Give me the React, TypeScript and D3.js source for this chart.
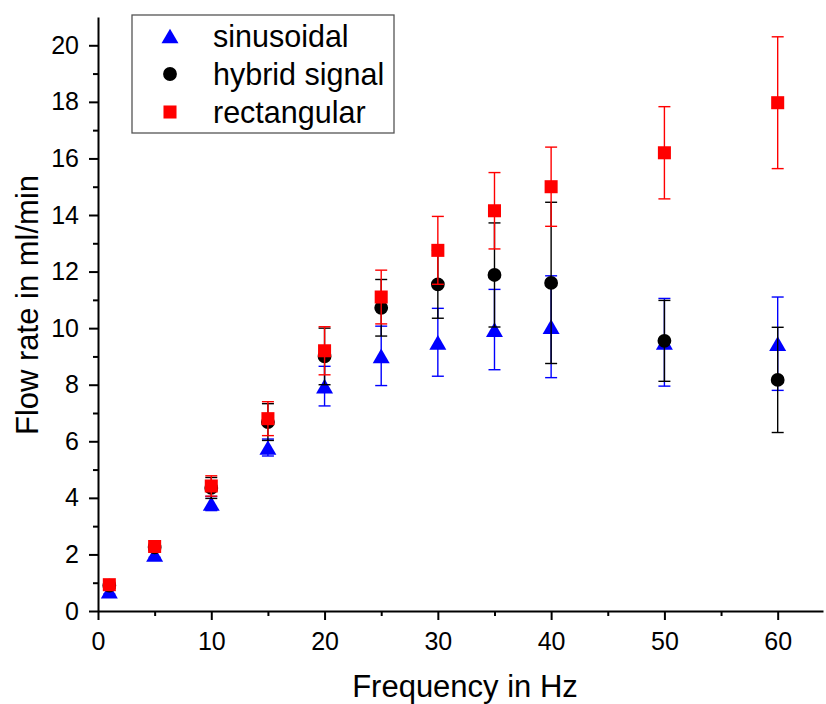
import React, { useEffect, useRef } from "react"
import * as d3 from "d3"

// frequencies (Hz) and flow rates (ml/min)
const frequencies = [1, 5, 10, 15, 20, 25, 30, 35, 40, 50, 60]
const sinusoidal = [0.7, 2.0, 3.8, 5.78, 7.95, 9.02, 9.5, 9.95, 10.05, 9.5, 9.45]
const sinusoidalErr = [0.1, 0.1, 0.25, 0.3, 0.7, 1.05, 1.2, 1.42, 1.8, 1.55, 1.65]
const hybrid = [0.9, 2.25, 4.35, 6.68, 9.0, 10.72, 11.55, 11.88, 11.6, 9.55, 8.17]
const hybridErr = [0.1, 0.1, 0.37, 0.65, 1.0, 1.0, 1.2, 1.84, 2.85, 1.43, 1.86]
const rectangular = [0.93, 2.28, 4.42, 6.8, 9.2, 11.1, 12.75, 14.15, 15.0, 16.2, 17.97]
const rectangularErr = [0.1, 0.1, 0.36, 0.6, 0.85, 0.95, 1.2, 1.35, 1.4, 1.63, 2.33]

const seriesNames = ["sinusoidal", "hybrid signal", "rectangular"]
const xMajorTicks = [0, 10, 20, 30, 40, 50, 60]
const xMinorTicks = [5, 15, 25, 35, 45, 55]
const yMajorTicks = [0, 2, 4, 6, 8, 10, 12, 14, 16, 18, 20]
const yMinorTicks = [1, 3, 5, 7, 9, 11, 13, 15, 17, 19]

const FONT = "'Liberation Sans', Arial, sans-serif"

export default function App() {
    const ref = useRef<SVGSVGElement>(null)

    useEffect(() => {
        const svg = d3.select(ref.current)
        svg.selectAll("*").remove()

        const margin = { top: 17, left: 98, bottom: 93, right: 3 }
        const width = 826
        const height = 704

        const x = d3.scaleLinear().domain([0, 64]).range([margin.left, width - margin.right])
        const y = d3.scaleLinear().domain([0, 21]).range([height - margin.bottom, margin.top])

        const series = [
            { name: seriesNames[0], values: sinusoidal, err: sinusoidalErr, color: "#0000ff", shape: "triangle" },
            { name: seriesNames[1], values: hybrid, err: hybridErr, color: "#000000", shape: "circle" },
            { name: seriesNames[2], values: rectangular, err: rectangularErr, color: "#ff0000", shape: "square" },
        ]

        const marker = (shape: string) => {
            if (shape === "triangle") return d3.symbol().type(d3.symbolTriangle).size(125)()
            if (shape === "circle") return d3.symbol().type(d3.symbolCircle).size(150)()
            return d3.symbol().type(d3.symbolSquare).size(170)()
        }
        const markerShift = (shape: string) => (shape === "triangle" ? 2.45 : 0)

        // axes
        const xAxis = svg.append("g").attr("transform", `translate(0,${y(0)})`)
        xAxis.call(d3.axisBottom(x).tickValues(xMajorTicks).tickSize(9).tickSizeOuter(0).tickPadding(12))
        xAxis.append("g").call(d3.axisBottom(x).tickValues(xMinorTicks).tickSize(5).tickFormat(() => ""))
            .select(".domain").remove()

        const yAxis = svg.append("g").attr("transform", `translate(${x(0)},0)`)
        yAxis.call(d3.axisLeft(y).tickValues(yMajorTicks).tickSize(9).tickSizeOuter(0).tickPadding(10))
        yAxis.append("g").call(d3.axisLeft(y).tickValues(yMinorTicks).tickSize(5).tickFormat(() => ""))
            .select(".domain").remove()

        svg.selectAll(".domain").attr("stroke", "#000").attr("stroke-width", 2)
        svg.selectAll(".tick line").attr("stroke", "#000").attr("stroke-width", 2)
        svg.selectAll(".tick text").attr("font-family", FONT).attr("font-size", 25).attr("fill", "#000")

        // series: error bars then markers
        series.forEach(s => {
            const g = svg.append("g")
            const pts = frequencies.map((f, i) => ({ f, v: s.values[i], e: s.err[i] }))
            const eb = g.selectAll("g.eb").data(pts).enter().append("g")
                .attr("stroke", s.color).attr("stroke-width", 1.4).attr("fill", "none")
            eb.append("line")
                .attr("x1", d => x(d.f)).attr("x2", d => x(d.f))
                .attr("y1", d => y(d.v - d.e)).attr("y2", d => y(d.v + d.e))
            eb.append("line")
                .attr("x1", d => x(d.f) - 6).attr("x2", d => x(d.f) + 6)
                .attr("y1", d => y(d.v + d.e)).attr("y2", d => y(d.v + d.e))
            eb.append("line")
                .attr("x1", d => x(d.f) - 6).attr("x2", d => x(d.f) + 6)
                .attr("y1", d => y(d.v - d.e)).attr("y2", d => y(d.v - d.e))

            g.selectAll("path.m").data(pts).enter().append("path")
                .attr("d", marker(s.shape))
                .attr("transform", d => `translate(${x(d.f)},${y(d.v) + markerShift(s.shape)})`)
                .attr("fill", s.color)
        })

        // legend
        const legend = svg.append("g")
        legend.append("rect")
            .attr("x", 132).attr("y", 15).attr("width", 262).attr("height", 118)
            .attr("fill", "#fff").attr("stroke", "#555").attr("stroke-width", 1.3)
        series.forEach((s, i) => {
            const cy = 36 + i * 38
            legend.append("path")
                .attr("d", marker(s.shape))
                .attr("transform", `translate(170,${cy + markerShift(s.shape)})`)
                .attr("fill", s.color)
            legend.append("text")
                .attr("x", 213).attr("y", cy).attr("dy", "0.35em")
                .attr("font-family", FONT).attr("font-size", 30.5)
                .text(s.name)
        })

        // axis titles
        svg.append("text")
            .attr("x", 465).attr("y", 697).attr("text-anchor", "middle")
            .attr("font-family", FONT).attr("font-size", 31)
            .text("Frequency in Hz")
        svg.append("text")
            .attr("transform", `translate(38,305) rotate(-90)`).attr("text-anchor", "middle")
            .attr("font-family", FONT).attr("font-size", 31)
            .text("Flow rate in ml/min")
    }, [])

    return (
        <svg ref={ref} width={826} height={704}
            style={{ position: "absolute", left: 0, top: 0, background: "#fff" }} />
    )
}
